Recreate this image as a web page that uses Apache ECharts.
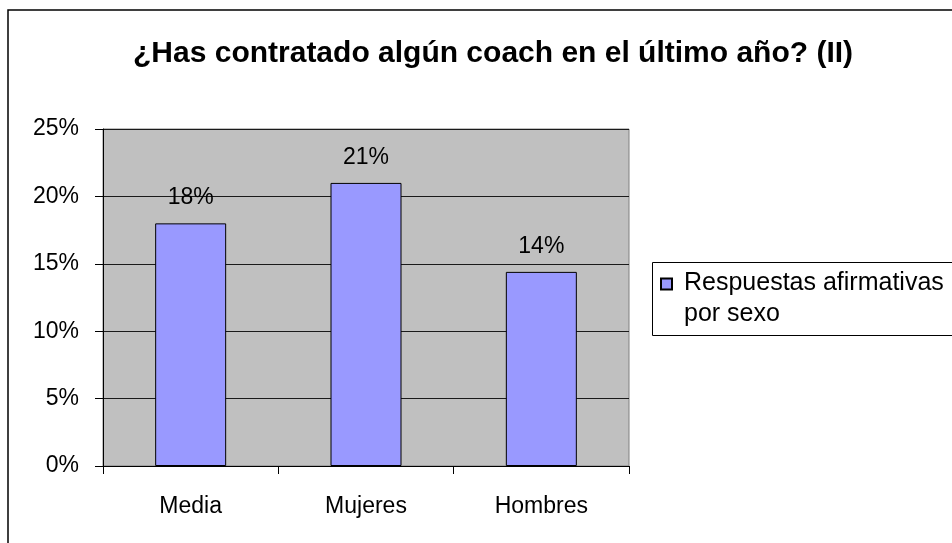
<!DOCTYPE html>
<html>
<head>
<meta charset="utf-8">
<title>¿Has contratado algún coach en el último año? (II)</title>
<script src="https://cdn.jsdelivr.net/npm/echarts@6/dist/echarts.min.js"></script>
<style>
  html, body { margin: 0; padding: 0; background: #fff; }
  #chart { width: 952px; height: 543px; }
</style>
</head>
<body>
<div id="chart"></div>
<script>
// chart data
const titleText = '¿Has contratado algún coach en el último año? (II)';
const categories = ['Media', 'Mujeres', 'Hombres'];
const seriesName = 'Respuestas afirmativas por sexo';
const values = [0.18, 0.21, 0.144];
const yTicks = [0, 0.05, 0.10, 0.15, 0.20, 0.25];

const FONT = '"Liberation Sans", Arial, sans-serif';
const pct = v => Math.round(v * 100) + '%';

const chart = echarts.init(document.getElementById('chart'), null, { renderer: 'canvas' });

chart.setOption({
    backgroundColor: '#fff',
    animation: false,
    textStyle: { fontFamily: FONT },
    title: {
        text: titleText,
        left: 133,
        top: 39,
        padding: 0,
        textStyle: { fontFamily: FONT, fontSize: 30, fontWeight: 'bold', color: '#000' }
    },
    // outer frame and legend box
    graphic: [
        {
            type: 'rect', z: -10, silent: true,
            shape: { x: 8, y: 10, width: 1000, height: 600 },
            style: { fill: 'none', stroke: '#000', lineWidth: 1.5 }
        },
        {
            type: 'rect', z: -5, silent: true,
            shape: { x: 652.5, y: 262.5, width: 400, height: 73 },
            style: { fill: '#fff', stroke: '#000', lineWidth: 1 }
        }
    ],
    legend: {
        left: 660,
        top: 268,
        padding: 0,
        orient: 'vertical',
        selectedMode: false,
        itemWidth: 18,
        itemHeight: 41,
        // square at the top left, invisible move stretches the box so text sits beside it
        icon: 'path://M0,0h11v11h-11zM18,41',
        formatter: () => 'Respuestas afirmativas\npor sexo',
        textStyle: { fontFamily: FONT, fontSize: 25, color: '#000', lineHeight: 31 },
        data: [seriesName]
    },
    grid: {
        left: 103,
        right: 323,
        top: 129,
        bottom: 77,
        show: true,
        backgroundColor: '#c0c0c0',
        borderColor: '#808080',
        borderWidth: 1
    },
    xAxis: {
        type: 'category',
        data: categories,
        axisLine: { lineStyle: { color: '#000', width: 1 } },
        axisTick: { show: true, length: 8, lineStyle: { color: '#000' } },
        axisLabel: { fontFamily: FONT, fontSize: 23, color: '#000', margin: 29 }
    },
    yAxis: {
        type: 'value',
        min: yTicks[0],
        max: yTicks[yTicks.length - 1],
        interval: yTicks[1] - yTicks[0],
        axisLine: { show: true, lineStyle: { color: '#000', width: 1 } },
        axisTick: { show: true, length: 8, lineStyle: { color: '#000' } },
        axisLabel: { fontFamily: FONT, fontSize: 23, color: '#000', margin: 24, formatter: pct },
        splitLine: { show: true, lineStyle: { color: '#1a1a1a', width: 1 } }
    },
    series: [
        {
            name: seriesName,
            type: 'bar',
            data: values,
            barWidth: 71,
            itemStyle: { color: '#9999ff', borderColor: '#000', borderWidth: 1 },
            label: {
                show: true,
                position: 'top',
                distance: 14,
                fontFamily: FONT,
                fontSize: 23,
                color: '#000',
                formatter: p => pct(p.value)
            }
        }
    ]
});
</script>
</body>
</html>
